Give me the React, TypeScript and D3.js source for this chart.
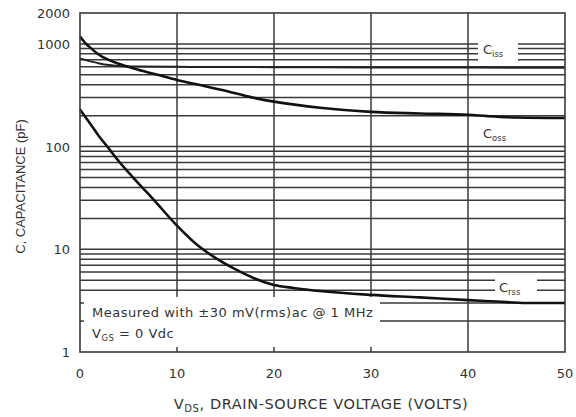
import React from "react";
import * as d3 from "d3";

const cissData: [number, number][] = [
  [0, 720], [1, 680], [2, 645], [3, 622], [4, 610], [6, 602], [10, 598], [20, 594], [30, 590], [40, 588], [50, 585],
];
const cossData: [number, number][] = [
  [0, 1180], [0.5, 1030], [1, 930], [2, 780], [4, 640], [6, 560], [8, 500], [10, 445], [12.5, 395], [15, 350],
  [17.5, 305], [20, 274], [25, 238], [30, 218], [35, 210], [40, 204], [42, 198], [45, 192], [50, 190],
];
const crssData: [number, number][] = [
  [0, 230], [1, 170], [2, 125], [3, 95], [4, 72], [5, 56], [6, 44], [7, 35], [8, 27.5], [10, 17],
  [12, 11.2], [14, 8.2], [16, 6.4], [18, 5.2], [20, 4.5], [22, 4.2], [25, 3.9], [30, 3.6], [35, 3.4],
  [40, 3.2], [43, 3.1], [46, 3.0], [50, 3.0],
];
const xTicks = [0, 10, 20, 30, 40, 50];
const yTickLabels = [1, 10, 100, 1000, 2000];

const W = 576, H = 417;
const L = 80, R = 565, T = 13, B = 352;

export default function App() {
  const x = d3.scaleLinear().domain([0, 50]).range([L, R]);
  const y = d3.scaleLog().domain([1, 2000]).range([B, T]);
  const gridVals: number[] = [];
  for (const dec of [1, 10, 100]) for (let m = 1; m <= 9; m++) gridVals.push(m * dec);
  gridVals.push(1000);
  const line = d3.line<[number, number]>().x(d => x(d[0])).y(d => y(d[1])).curve(d3.curveMonotoneX);
  const txt = "#333";
  const font = "'DejaVu Sans', sans-serif";
  const fontY = "'Liberation Sans', Arial, sans-serif";
  const boxTop = 297, boxRight = 380;
  return (
    <svg width={W} height={H} style={{ display: "block", position: "absolute", left: 0, top: 0 }} fontFamily={font}>
      <rect width={W} height={H} fill="#fff" />
      {gridVals.filter(v => v > 1).map(v => (
        <line key={"h" + v} x1={L} x2={R} y1={y(v)} y2={y(v)} stroke="#3a3a3a" strokeWidth={1.5} />
      ))}
      {xTicks.slice(1, -1).map(v => (
        <line key={"v" + v} x1={x(v)} x2={x(v)} y1={T} y2={B} stroke="#3a3a3a" strokeWidth={1.5} />
      ))}
      {/* annotation box */}
      <rect x={L + 1} y={boxTop} width={boxRight - L - 1} height={B - boxTop} fill="#fff" />
      {[2, 3].map(v => (
        <line key={"s" + v} x1={L} x2={L + 4} y1={y(v)} y2={y(v)} stroke="#3a3a3a" strokeWidth={1.5} />
      ))}
      {xTicks.slice(1, -1).filter(v => x(v) < boxRight).map(v => (
        <line key={"b" + v} x1={x(v)} x2={x(v)} y1={B - 5} y2={B} stroke="#3a3a3a" strokeWidth={1.5} />
      ))}
      {/* label backgrounds */}
      <rect x={478} y={38} width={40} height={25} fill="#fff" />
      <rect x={495} y={276} width={42} height={21} fill="#fff" />
      {/* curves */}
      <path d={line(cissData) || ""} fill="none" stroke="#222" strokeWidth={2} />
      <path d={line(cossData) || ""} fill="none" stroke="#111" strokeWidth={2.6} />
      <path d={line(crssData) || ""} fill="none" stroke="#111" strokeWidth={2.6} />
      {/* frame */}
      <rect x={L} y={T} width={R - L} height={B - T} fill="none" stroke="#3a3a3a" strokeWidth={1.6} />
      {/* curve labels */}
      <text x={483} y={54} fontSize={13} fill={txt}>C<tspan fontSize={8.5} dy={3}>iss</tspan></text>
      <text x={483} y={138} fontSize={13} fill={txt}>C<tspan fontSize={8.5} dy={3}>oss</tspan></text>
      <text x={499} y={292} fontSize={13} fill={txt}>C<tspan fontSize={8.5} dy={3}>rss</tspan></text>
      {/* annotation */}
      <text x={92} y={317} fontSize={13} letterSpacing={0.5} fill={txt}>Measured with ±30 mV(rms)ac @ 1 MHz</text>
      <text x={92} y={338} fontSize={13} letterSpacing={0.5} fill={txt}>V<tspan fontSize={8.5} dy={3}>GS</tspan><tspan dy={-3}> = 0 Vdc</tspan></text>
      {/* tick labels */}
      {yTickLabels.map(v => (
        <text key={"yl" + v} x={70} y={y(v) + 5} fontSize={13} fill={txt} textAnchor="end">{v}</text>
      ))}
      {xTicks.map(v => (
        <text key={"xl" + v} x={x(v)} y={378} fontSize={13} fill={txt} textAnchor="middle">{v}</text>
      ))}
      <text x={321} y={409} fontSize={14.5} letterSpacing={0.6} fill={txt} textAnchor="middle">V<tspan fontSize={10} dy={3}>DS</tspan><tspan dy={-3}>, DRAIN-SOURCE VOLTAGE (VOLTS)</tspan></text>
      <text transform={`translate(25, ${(T + B) / 2 + 4}) rotate(-90)`} fontSize={13} fill={txt} textAnchor="middle" fontFamily={fontY}>C, CAPACITANCE (pF)</text>
    </svg>
  );
}
